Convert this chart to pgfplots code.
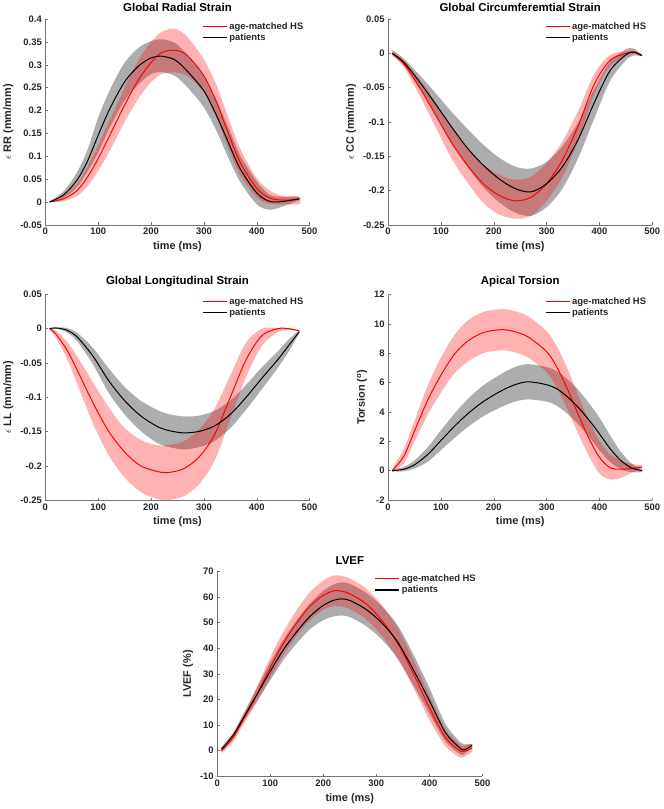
\documentclass[border=0pt]{standalone}
\usepackage{fontspec}
\setmainfont{Liberation Sans}
\usepackage{pgfplots}
\usepackage{pgfplotstable}
\pgfplotsset{compat=1.18}

% mean curves: time, age-matched HS, patients
\pgfplotstableread{
t    rm      bm
8    0       0
35   0.007   0.016
60   0.025   0.048
80   0.055   0.09
100  0.095   0.146
122  0.146   0.204
150  0.212   0.263
177  0.269   0.298
200  0.305   0.315
220  0.327   0.319
245  0.332   0.311
268  0.321   0.287
300  0.276   0.243
324  0.218   0.189
343  0.16    0.139
368  0.088   0.074
400  0.03    0.02
424  0.009   0.0015
449  0.004   0.001
480  0.006   0.007
}\tabRR

\pgfplotstableread{
t    rm      bm
8    0       0
30   -0.015  -0.013
60   -0.05   -0.042
90   -0.09   -0.074
120  -0.13   -0.107
150  -0.163  -0.138
180  -0.19   -0.163
210  -0.207  -0.183
240  -0.215  -0.197
270  -0.21   -0.202
300  -0.19   -0.19
330  -0.155  -0.165
360  -0.105  -0.125
390  -0.045  -0.072
420  -0.01   -0.025
450  0       -0.002
465  0.002   0.002
480  -0.003  -0.003
}\tabCC

\pgfplotstableread{
t    rm      bm
8    0       0
20   -0.008  0.001
40   -0.03   -0.002
60   -0.06   -0.012
90   -0.108  -0.04
120  -0.15   -0.076
150  -0.18   -0.105
180  -0.2    -0.127
210  -0.208  -0.142
230  -0.21   -0.148
260  -0.205  -0.152
290  -0.188  -0.15
320  -0.155  -0.142
350  -0.1    -0.125
380  -0.045  -0.1
410  -0.01   -0.072
440  0       -0.045
460  0.0     -0.025
480  -0.003  -0.005
}\tabLL

\pgfplotstableread{
t    rm     bm
8    0      0
30   1.0    0.1
50   2.7    0.4
75   4.8    1.1
100  6.5    2.05
125  7.9    3.0
150  8.8    3.85
180  9.4    4.7
215  9.6    5.45
240  9.45   5.85
265  9.1    6.05
300  8.1    5.85
320  7.0    5.55
340  5.5    5.0
360  3.8    4.3
380  2.2    3.45
400  0.9    2.5
420  0.2    1.5
440  0.1    0.7
460  0.15   0.2
480  0.25   0
}\tabTor

\pgfplotstableread{
t    rm    bm
8    0     0.5
30   5     6
50   12.5  13
75   22    22
100  32.5  31
125  42    39.5
150  50    46.5
175  56.5  52.5
200  60.7  56.8
220  62.5  58.8
235  62.3  59.3
250  61.3  58.7
280  57.5  55.3
310  51    50
340  42    42.5
370  30    31.5
400  16.8  19.5
430  5.2   7.1
455  0.3   1.5
465  -0.3  0.3
480  1.0   2.0
}\tabEF

\pgfplotsset{
  panel/.style={
    anchor=south west, scale only axis, width=266pt, height=207pt,
    xmin=0, xmax=500, xtick={0,100,200,300,400,500},
    axis x line*=bottom, axis y line*=left,
    axis line style={draw=black!55, line width=0.5pt},
    tick align=inside, major tick length=2.5pt,
    tick style={draw=black!55, line width=0.5pt},
    /pgf/number format/assume math mode=true,
    scaled y ticks=false,
    yticklabel style={/pgf/number format/fixed},
    tick label style={font=\bfseries\fontsize{9.5}{10}\selectfont, text=black!85},
    label style={font=\bfseries\fontsize{11}{12}\selectfont, text=black!85},
    title style={font=\bfseries\fontsize{11.5}{12}\selectfont, yshift=-2pt},
    xlabel={time (ms)},
    legend cell align=left,
    legend style={draw=none, fill=none, at={(0.59,1.0)}, anchor=north west,
      font=\bfseries\fontsize{9.5}{10}\selectfont, text=black!85,
      row sep=-1.2pt, inner sep=1pt},
    legend image code/.code={\draw[#1, line width=1.1pt] (0pt,0pt) -- (24pt,0pt);},
  },
  grayband/.style={fill=black, fill opacity=0.32, draw=none, smooth, forget plot},
  redband/.style={fill=red, fill opacity=0.3, draw=none, smooth, forget plot},
  hsline/.style={color=red, line width=1pt, smooth},
  ptline/.style={color=black, line width=1pt, smooth},
}

\begin{document}
\begin{tikzpicture}
\path (0pt,0pt) rectangle (661pt,809pt);

\begin{axis}[panel, at={(41pt,588pt)},
  title={Global Radial Strain},
  ylabel={$\epsilon$ RR (mm/mm)},
  ymin=-0.05, ymax=0.4,
  ytick={-0.05,0,0.05,0.1,0.15,0.2,0.25,0.3,0.35,0.4}]
\addplot[grayband] coordinates {(8,0.001)(35,0.024)(60,0.065)(80,0.115)(100,0.185)(122,0.245)(150,0.305)(177,0.338)(200,0.352)(220,0.356)(245,0.348)(268,0.323)(300,0.276)(324,0.222)(343,0.172)(368,0.104)(400,0.045)(424,0.016)(449,0.011)(480,0.01)
 (480,0.004)(449,-0.01)(424,-0.017)(400,-0.005)(368,0.045)(343,0.105)(324,0.155)(300,0.207)(268,0.252)(245,0.276)(220,0.284)(200,0.28)(177,0.258)(150,0.222)(122,0.163)(100,0.108)(80,0.068)(60,0.033)(35,0.009)(8,-0.001)};
\addplot[redband] coordinates {(8,0.001)(35,0.014)(60,0.04)(80,0.078)(100,0.125)(122,0.18)(150,0.25)(177,0.312)(200,0.35)(220,0.372)(245,0.379)(268,0.362)(300,0.312)(324,0.255)(343,0.195)(368,0.118)(400,0.052)(424,0.025)(449,0.013)(480,0.012)
 (480,-0.005)(449,-0.005)(424,-0.004)(400,0.01)(368,0.06)(343,0.128)(324,0.183)(300,0.24)(268,0.276)(245,0.283)(220,0.28)(200,0.262)(177,0.228)(150,0.175)(122,0.112)(100,0.068)(80,0.035)(60,0.013)(35,0.002)(8,-0.001)};
\addplot[hsline] table[x=t,y=rm]{\tabRR};
\addlegendentry{age-matched HS}
\addplot[ptline] table[x=t,y=bm]{\tabRR};
\addlegendentry{patients}
\end{axis}

\begin{axis}[panel, at={(386pt,588pt)},
  title={Global Circumferemtial Strain},
  ylabel={$\epsilon$ CC (mm/mm)},
  ymin=-0.25, ymax=0.05,
  ytick={-0.25,-0.2,-0.15,-0.1,-0.05,0,0.05}]
\addplot[grayband] coordinates {(8,0.005)(30,-0.008)(60,-0.032)(90,-0.058)(120,-0.085)(150,-0.11)(180,-0.133)(210,-0.152)(240,-0.165)(270,-0.168)(300,-0.158)(330,-0.135)(360,-0.1)(390,-0.052)(420,-0.012)(450,0.006)(465,0.007)(480,-0.002)
 (480,-0.004)(465,-0.003)(450,-0.01)(420,-0.04)(390,-0.095)(360,-0.152)(330,-0.197)(300,-0.224)(270,-0.237)(240,-0.232)(210,-0.217)(180,-0.195)(150,-0.165)(120,-0.13)(90,-0.09)(60,-0.052)(30,-0.018)(8,-0.003)};
\addplot[redband] coordinates {(8,0.003)(30,-0.01)(60,-0.038)(90,-0.072)(120,-0.107)(150,-0.138)(180,-0.162)(210,-0.177)(240,-0.184)(270,-0.18)(300,-0.16)(330,-0.128)(360,-0.083)(390,-0.03)(420,-0.002)(450,0.003)(465,0.004)(480,-0.002)
 (480,-0.004)(465,-0.001)(450,-0.004)(420,-0.018)(390,-0.06)(360,-0.127)(330,-0.18)(300,-0.215)(270,-0.237)(240,-0.241)(210,-0.235)(180,-0.218)(150,-0.188)(120,-0.153)(90,-0.108)(60,-0.062)(30,-0.02)(8,-0.002)};
\addplot[hsline] table[x=t,y=rm]{\tabCC};
\addlegendentry{age-matched HS}
\addplot[ptline] table[x=t,y=bm]{\tabCC};
\addlegendentry{patients}
\end{axis}

\begin{axis}[panel, at={(41pt,311pt)},
  title={Global Longitudinal Strain},
  ylabel={$\epsilon$ LL (mm/mm)},
  ymin=-0.25, ymax=0.05,
  ytick={-0.25,-0.2,-0.15,-0.1,-0.05,0,0.05}]
\addplot[grayband] coordinates {(8,0.001)(20,0.002)(40,0.001)(60,-0.006)(90,-0.028)(120,-0.058)(150,-0.085)(180,-0.105)(210,-0.118)(230,-0.124)(260,-0.128)(290,-0.127)(320,-0.12)(350,-0.105)(380,-0.082)(410,-0.056)(440,-0.033)(460,-0.016)(480,-0.003)
 (480,-0.007)(460,-0.034)(440,-0.057)(410,-0.088)(380,-0.118)(350,-0.145)(320,-0.164)(290,-0.173)(260,-0.176)(230,-0.172)(210,-0.166)(180,-0.149)(150,-0.125)(120,-0.094)(90,-0.052)(60,-0.018)(40,-0.005)(20,0)(8,-0.001)};
\addplot[redband] coordinates {(8,0.001)(20,-0.003)(40,-0.018)(60,-0.04)(90,-0.078)(120,-0.115)(150,-0.145)(180,-0.162)(210,-0.17)(230,-0.17)(260,-0.165)(290,-0.148)(320,-0.117)(350,-0.068)(380,-0.02)(410,0)(440,0.001)(460,0.001)(480,-0.002)
 (480,-0.004)(460,-0.002)(440,-0.005)(410,-0.025)(380,-0.07)(350,-0.132)(320,-0.193)(290,-0.228)(260,-0.245)(230,-0.25)(210,-0.248)(180,-0.238)(150,-0.217)(120,-0.185)(90,-0.138)(60,-0.08)(40,-0.042)(20,-0.013)(8,-0.001)};
\addplot[hsline] table[x=t,y=rm]{\tabLL};
\addlegendentry{age-matched HS}
\addplot[ptline] table[x=t,y=bm]{\tabLL};
\addlegendentry{patients}
\end{axis}

\begin{axis}[panel, at={(386pt,311pt)},
  title={Apical Torsion},
  ylabel={Torsion (\textsuperscript{o})},
  ymin=-2, ymax=12,
  ytick={-2,0,2,4,6,8,10,12}]
\addplot[grayband] coordinates {(8,0.05)(30,0.25)(50,0.7)(75,1.6)(100,2.75)(125,3.85)(150,4.85)(180,5.8)(215,6.6)(240,7.05)(265,7.25)(300,7.05)(320,6.75)(340,6.2)(360,5.5)(380,4.6)(400,3.6)(420,2.4)(440,1.3)(460,0.5)(480,0.1)
 (480,-0.1)(460,-0.1)(440,0.1)(420,0.6)(400,1.4)(380,2.3)(360,3.15)(340,3.85)(320,4.4)(300,4.7)(265,4.85)(240,4.7)(215,4.35)(180,3.7)(150,2.95)(125,2.2)(100,1.4)(75,0.6)(50,0.15)(30,-0.05)(8,-0.05)};
\addplot[redband] coordinates {(8,0.15)(30,1.5)(50,3.4)(75,5.8)(100,7.7)(125,9.2)(150,10.2)(180,10.8)(215,11.0)(240,10.85)(265,10.5)(300,9.5)(320,8.4)(340,6.9)(360,5.1)(380,3.4)(400,2.0)(420,1.1)(440,0.7)(460,0.45)(480,0.35)
 (480,0.15)(460,-0.15)(440,-0.5)(420,-0.6)(400,-0.2)(380,1.0)(360,2.5)(340,4.1)(320,5.6)(300,6.7)(265,7.7)(240,8.05)(215,8.2)(180,8.0)(150,7.4)(125,6.6)(100,5.3)(75,3.8)(50,2.0)(30,0.5)(8,-0.1)};
\addplot[hsline] table[x=t,y=rm]{\tabTor};
\addlegendentry{age-matched HS}
\addplot[ptline] table[x=t,y=bm]{\tabTor};
\addlegendentry{patients}
\end{axis}

\begin{axis}[panel, at={(214pt,33pt)}, width=267pt, height=206pt,
  title={LVEF},
  ylabel={LVEF (\%)},
  ymin=-10, ymax=70,
  ytick={-10,0,10,20,30,40,50,60,70}]
\addplot[grayband] coordinates {(8,1.3)(30,7)(50,14.5)(75,24.5)(100,34.5)(125,43.5)(150,51)(175,57.5)(200,62.5)(220,65)(235,65.8)(250,65.2)(280,61.8)(310,56.5)(340,49)(370,37.5)(400,24.5)(430,10.5)(455,4)(465,2.5)(480,2.6)
 (480,1.4)(465,-1.5)(455,-1)(430,3.7)(400,14.5)(370,25.5)(340,36)(310,43.5)(280,48.8)(250,52.2)(235,52.8)(220,52.5)(200,51)(175,47.5)(150,42)(125,35.5)(100,27.5)(75,19.5)(50,11.5)(30,5)(8,-0.3)};
\addplot[redband] coordinates {(8,1)(30,6.5)(50,14.5)(75,25)(100,36.5)(125,46.5)(150,55)(175,62)(200,66.5)(220,68.5)(235,68.3)(250,67.3)(280,63.5)(310,57)(340,48)(370,35.5)(400,21.5)(430,8.5)(455,2.8)(465,1.8)(480,2.5)
 (480,-0.5)(465,-2.4)(455,-2.4)(430,1.8)(400,12)(370,24.5)(340,36)(310,45)(280,51.5)(250,55.3)(235,56.3)(220,56.5)(200,55)(175,51)(150,45)(125,37.5)(100,28.5)(75,19)(50,10.5)(30,3.5)(8,-1)};
\addplot[hsline] table[x=t,y=rm]{\tabEF};
\addlegendentry{age-matched HS}
\addplot[ptline] table[x=t,y=bm]{\tabEF};
\addlegendentry{patients}
\end{axis}
\end{tikzpicture}
\end{document}
